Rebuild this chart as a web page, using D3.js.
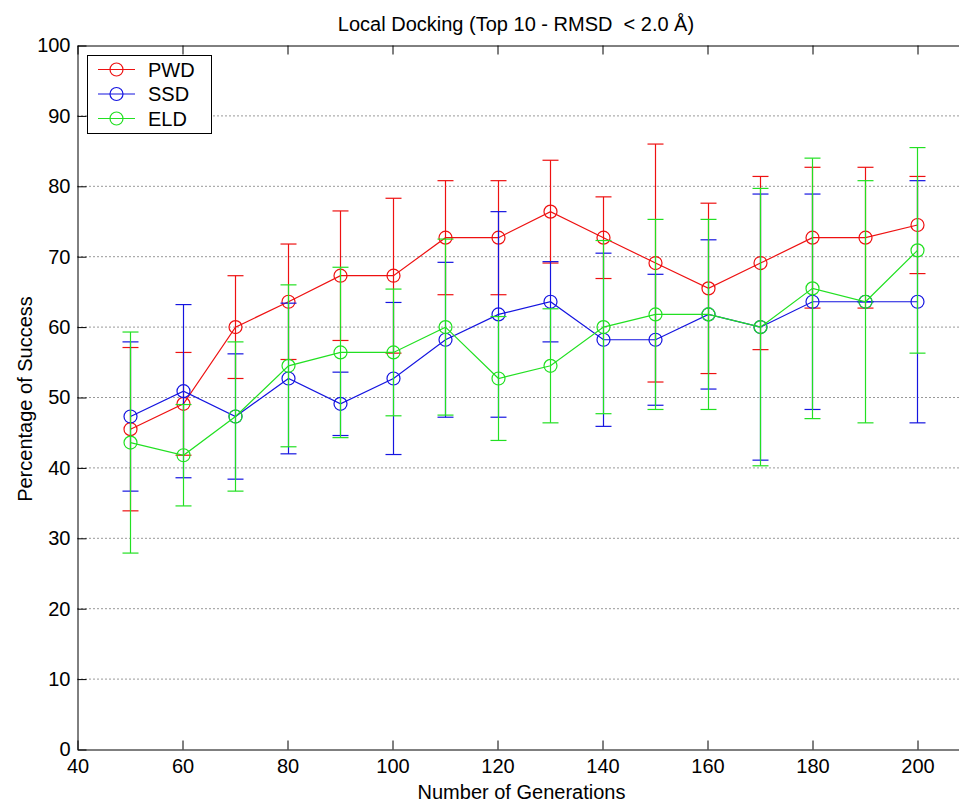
<!DOCTYPE html>
<html>
<head>
<meta charset="utf-8">
<script src="https://cdn.jsdelivr.net/npm/d3@7"></script>
<style>
  html, body { margin: 0; padding: 0; background: #fff; }
  svg { display: block; font-family: "Liberation Sans", Arial, sans-serif; }
  .pre { white-space: pre; }
</style>
</head>
<body>
<svg id="chart" width="959" height="803"></svg>
<script>
// ---- data ----
const generations = [50, 60, 70, 80, 90, 100, 110, 120, 130, 140, 150, 160, 170, 180, 190, 200];
const seriesNames = ["PWD", "SSD", "ELD"];
const pwdMean = [45.5, 49.1, 60.0, 63.6, 67.3, 67.3, 72.7, 72.7, 76.4, 72.7, 69.1, 65.5, 69.1, 72.7, 72.7, 74.5];
const pwdErr  = [11.6, 7.3, 7.3, 8.2, 9.2, 11.0, 8.1, 8.1, 7.3, 5.8, 16.9, 12.1, 12.3, 10.0, 10.0, 6.9];
const ssdMean = [47.3, 50.9, 47.3, 52.7, 49.1, 52.7, 58.2, 61.8, 63.6, 58.2, 58.2, 61.8, 60.0, 63.6, 63.6, 63.6];
const ssdErr  = [10.6, 12.3, 8.9, 10.7, 4.5, 10.8, 11.0, 14.6, 5.7, 12.3, 9.3, 10.6, 18.9, 15.3, 0.0, 17.2];
const eldMean = [43.6, 41.8, 47.3, 54.5, 56.4, 56.4, 60.0, 52.7, 54.5, 60.0, 61.8, 61.8, 60.0, 65.5, 63.6, 70.9];
const eldErr  = [15.7, 7.2, 10.6, 11.5, 12.1, 9.0, 12.5, 8.8, 8.1, 12.3, 13.5, 13.5, 19.7, 18.5, 17.2, 14.6];
const xTicks = [40, 60, 80, 100, 120, 140, 160, 180, 200];
const yTicks = [0, 10, 20, 30, 40, 50, 60, 70, 80, 90, 100];
const titleText = "Local Docking (Top 10 - RMSD  < 2.0 Å)";
const xLabel = "Number of Generations";
const yLabel = "Percentage of Success";

// ---- setup ----
const colors = ["#ee1111", "#1515e0", "#22e022"];
const series = [
  { name: seriesNames[0], mean: pwdMean, err: pwdErr, color: colors[0] },
  { name: seriesNames[1], mean: ssdMean, err: ssdErr, color: colors[1] },
  { name: seriesNames[2], mean: eldMean, err: eldErr, color: colors[2] }
];

const svg = d3.select("#chart");
const plotLeft = 77.5, plotTop = 45.5, plotBottom = 749.5;
const x = d3.scaleLinear().domain([40, 210]).range([plotLeft, plotLeft + 170 * 5.25]);
const y = d3.scaleLinear().domain([0, 100]).range([plotBottom, plotTop]);
const plotRight = x(210);
const fontSize = 20;

// grid (horizontal dotted)
svg.append("g").selectAll("line")
  .data(yTicks.filter(v => v > 0 && v < 100))
  .join("line")
  .attr("x1", plotLeft).attr("x2", plotRight)
  .attr("y1", d => y(d)).attr("y2", d => y(d))
  .attr("stroke", "#333").attr("stroke-width", 1)
  .attr("stroke-dasharray", "1,3");

// axes
const xAxisB = d3.axisBottom(x).tickValues(xTicks).tickSizeInner(-9).tickSizeOuter(0).tickPadding(9);
const xAxisT = d3.axisTop(x).tickValues(xTicks).tickSizeInner(-9).tickSizeOuter(0).tickFormat("");
const yAxisL = d3.axisLeft(y).tickValues(yTicks).tickSizeInner(-9).tickSizeOuter(0).tickPadding(7);

function styleAxis(g) {
  g.select(".domain").attr("stroke", "#000");
  g.selectAll(".tick line").attr("stroke", "#000");
  g.selectAll(".tick text").attr("fill", "#000").attr("font-size", fontSize).attr("font-family", "Liberation Sans, Arial, sans-serif");
}
svg.append("g").attr("transform", `translate(0,${plotBottom})`).call(xAxisB).call(styleAxis);
svg.append("g").attr("transform", `translate(0,${plotTop})`).call(xAxisT).call(styleAxis);
svg.append("g").attr("transform", `translate(${plotLeft},0)`).call(yAxisL).call(styleAxis);

// series
const capHalf = 8;
const line = d3.line().x(d => Math.round(x(d.g)) + 0.5).y(d => y(d.m));
series.forEach(s => {
  const pts = generations.map((g, i) => ({ g, m: s.mean[i], e: s.err[i] }));
  const g = svg.append("g");
  pts.forEach(p => {
    const xp = Math.round(x(p.g)) + 0.5;
    const yl = y(p.m - p.e), yh = y(p.m + p.e);
    g.append("line").attr("x1", xp).attr("x2", xp).attr("y1", yl).attr("y2", yh)
      .attr("stroke", s.color).attr("stroke-width", 1.2);
    [yl, yh].forEach(yy => {
      g.append("line").attr("x1", xp - capHalf).attr("x2", xp + capHalf).attr("y1", yy).attr("y2", yy)
        .attr("stroke", s.color).attr("stroke-width", 1.2);
    });
  });
  g.append("path").datum(pts).attr("d", line)
    .attr("fill", "none").attr("stroke", s.color).attr("stroke-width", 1.2);
  g.selectAll("circle").data(pts).join("circle")
    .attr("cx", d => Math.round(x(d.g)) + 0.5).attr("cy", d => y(d.m)).attr("r", 6.5)
    .attr("fill", "none").attr("stroke", s.color).attr("stroke-width", 1.2);
});

// legend
const lg = svg.append("g");
lg.append("rect").attr("x", 87.5).attr("y", 55.5).attr("width", 124).attr("height", 78)
  .attr("fill", "#fff").attr("stroke", "#000").attr("stroke-width", 1);
series.forEach((s, i) => {
  const ly = 69.5 + i * 24.5;
  lg.append("line").attr("x1", 98).attr("x2", 135).attr("y1", ly).attr("y2", ly)
    .attr("stroke", s.color).attr("stroke-width", 1.2);
  lg.append("circle").attr("cx", 116.5).attr("cy", ly).attr("r", 6.5)
    .attr("fill", "none").attr("stroke", s.color).attr("stroke-width", 1.2);
  lg.append("text").attr("x", 148).attr("y", ly).attr("dy", "0.36em")
    .attr("font-size", fontSize).attr("fill", "#000").text(s.name);
});

// title and labels
svg.append("text").attr("class", "pre").attr("xml:space", "preserve")
  .attr("x", 516).attr("y", 31).attr("text-anchor", "middle")
  .attr("font-size", fontSize).attr("fill", "#000").text(titleText);
svg.append("text").attr("x", 521.5).attr("y", 799).attr("text-anchor", "middle")
  .attr("font-size", fontSize).attr("fill", "#000").text(xLabel);
svg.append("text").attr("transform", "translate(32,399) rotate(-90)").attr("text-anchor", "middle")
  .attr("font-size", fontSize).attr("fill", "#000").text(yLabel);
</script>
</body>
</html>
